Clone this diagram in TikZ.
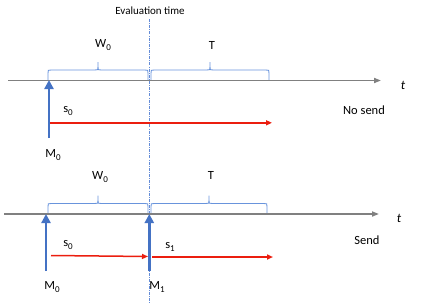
\documentclass[tikz,border=0pt]{standalone}
\usepackage{fontspec}
\setmainfont{Carlito}
\usetikzlibrary{arrows.meta}
\definecolor{axisgray}{RGB}{128,128,128}
\definecolor{mblue}{RGB}{68,114,196}
\definecolor{evcol}{RGB}{100,140,215}
\definecolor{bracecol}{RGB}{105,148,220}
\definecolor{mred}{RGB}{235,30,15}
\newcommand{\mysub}[1]{\raisebox{-0.35ex}{\fontsize{9}{10}\selectfont #1}}
\tikzset{
  lbl/.style={inner sep=0pt, font=\fontsize{12.5}{14}\selectfont},
  axisline/.style={draw=axisgray, line width=1.6pt, -{Triangle[length=7pt,width=5pt]}},
  marker/.style={draw=mblue, line width=2.4pt, -{Triangle[length=9pt,width=9pt]}, shorten >=-1pt},
  sendarrow/.style={draw=mred, line width=1.5pt, -{Triangle[length=6pt,width=5pt]}},
  evalline/.style={draw=evcol, line width=0.7pt, dash pattern=on 3pt off 1.2pt on 0.8pt off 1.2pt},
  bracepath/.style={draw=bracecol, line width=0.9pt},
}
\newcommand{\obrace}[4]{% left x, right x, tip x, base y
  \draw[bracepath] (#1,#4) -- (#1,#4-7) .. controls (#1,#4-10) .. (#1+3,#4-10) -- (#3-3,#4-10)
    .. controls (#3,#4-10) .. (#3,#4-13) -- (#3,#4-18) -- (#3,#4-13) .. controls (#3,#4-10) .. (#3+3,#4-10)
    -- (#2-3,#4-10) .. controls (#2,#4-10) .. (#2,#4-7) -- (#2,#4);}
\begin{document}
\begin{tikzpicture}[x=1pt,y=-1pt]
\useasboundingbox (0,0) rectangle (425,303);
% evaluation line
\node[lbl, font=\fontsize{11}{13}\selectfont] (evtxt) at (150,11) {Evaluation time};
\coordinate (evtop) at (149,19);
\coordinate (evbot) at (149,303);
\draw[evalline] (evtop) -- (evbot);

% ===== top: No send =====
\coordinate (ax1s) at (8,80.5);
\coordinate (ax1e) at (381,80.5);
\obrace{48}{148}{98}{80}
\obrace{151}{269}{210}{80}
\draw[axisline] (ax1s) -- (ax1e);
\node[lbl, font=\fontsize{13}{15}\selectfont\itshape] (t1) at (403,85) {t};
\node[lbl] (w1) at (103,45) {W\mysub{0}};
\node[lbl] (T1) at (212,45) {T};
\coordinate (m0tb) at (49,138);
\coordinate (m0tt) at (49,81);
\draw[marker] (m0tb) -- (m0tt);
\node[lbl] (m0t) at (53,155) {M\mysub{0}};
\node[lbl] (s0t) at (68,111) {s\mysub{0}};
\coordinate (r1s) at (50,122.8);
\coordinate (r1e) at (272,122.8);
\draw[sendarrow] (r1s) -- (r1e);
\node[lbl] (nosend) at (364,110) {No send};

% ===== bottom: Send =====
\coordinate (ax2s) at (4,214);
\coordinate (ax2e) at (379,214);
\obrace{48}{148}{98}{213.5}
\obrace{151}{267}{209}{213.5}
\draw[axisline] (ax2s) -- (ax2e);
\node[lbl, font=\fontsize{13}{15}\selectfont\itshape] (t2) at (399,218) {t};
\node[lbl] (w2) at (100,177) {W\mysub{0}};
\node[lbl] (T2) at (211,175) {T};
\coordinate (m0bb) at (46,271);
\coordinate (m0bt) at (46,215);
\draw[marker] (m0bb) -- (m0bt);
\coordinate (m1bb) at (149.3,271);
\coordinate (m1bt) at (149.3,215);
\draw[marker] (m1bb) -- (m1bt);
\node[lbl] (m0b) at (52,287) {M\mysub{0}};
\node[lbl] (m1b) at (157,287) {M\mysub{1}};
\node[lbl] (s0b) at (68,245) {s\mysub{0}};
\node[lbl] (s1b) at (170,247) {s\mysub{1}};
\coordinate (r2s) at (51,255.5);
\coordinate (r2e) at (148,256.5);
\draw[sendarrow] (r2s) -- (r2e);
\coordinate (r3s) at (152,257);
\coordinate (r3e) at (273,257);
\draw[sendarrow] (r3s) -- (r3e);
\node[lbl] (send) at (367,240) {Send};
\end{tikzpicture}
\end{document}
